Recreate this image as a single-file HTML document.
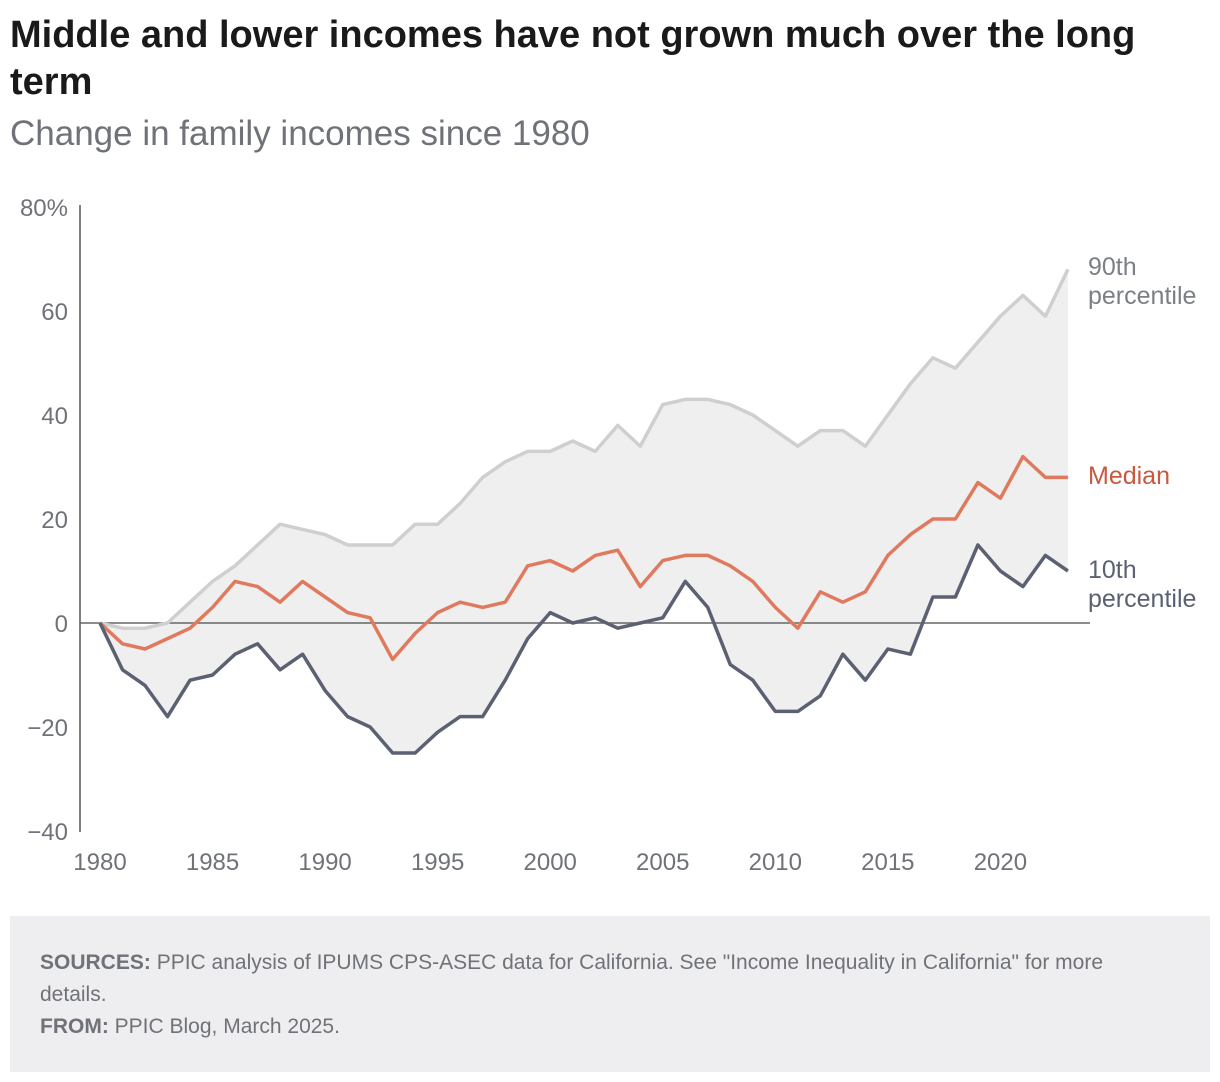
<!DOCTYPE html>
<html><head><meta charset="utf-8"><style>
body{margin:0;background:#fff;width:1220px;height:1082px;overflow:hidden;font-family:"Liberation Sans",sans-serif}
h1{position:absolute;left:10px;top:12px;margin:0;font-size:38px;line-height:47px;font-weight:bold;color:#1a1a1a;width:1160px}
.sub{position:absolute;left:10px;top:114px;font-size:35px;color:#6f7278}
.foot{position:absolute;left:10px;top:916px;width:1200px;height:156px;background:#eeeef0;color:#6f7278;font-size:21px;line-height:32px}
.foot div{padding:31px 30px 0 30px;width:1120px;box-sizing:content-box}
</style></head><body>
<h1>Middle and lower incomes have not grown much over the long term</h1>
<div class="sub">Change in family incomes since 1980</div>
<svg id="chart" width="1220" height="900" style="position:absolute;left:0;top:0"></svg>
<div class="foot"><div><b>SOURCES:</b> PPIC analysis of IPUMS CPS-ASEC data for California. See "Income Inequality in California" for more details.<br><b>FROM:</b> PPIC Blog, March 2025.</div></div>
<script>
const years=[];for(let y=1980;y<=2023;y++)years.push(y);
const p90=[0,-1,-1,0,4,8,11,15,19,18,17,15,15,15,19,19,23,28,31,33,33,35,33,38,34,42,43,43,42,40,37,34,37,37,34,40,46,51,49,54,59,63,59,68];
const median=[0,-4,-5,-3,-1,3,8,7,4,8,5,2,1,-7,-2,2,4,3,4,11,12,10,13,14,7,12,13,13,11,8,3,-1,6,4,6,13,17,20,20,27,24,32,28,28];
const p10=[0,-9,-12,-18,-11,-10,-6,-4,-9,-6,-13,-18,-20,-25,-25,-21,-18,-18,-11,-3,2,0,1,-1,0,1,8,3,-8,-11,-17,-17,-14,-6,-11,-5,-6,5,5,15,10,7,13,10];
const yTicks=[80,60,40,20,0,-20,-40];
const xTicks=[1980,1985,1990,1995,2000,2005,2010,2015,2020];
const X=y=>100+(y-1980)*22.51, Y=v=>623-v*5.2;
const svg=document.getElementById('chart'),NS='http://www.w3.org/2000/svg';
function mk(t,a,txt){const e=document.createElementNS(NS,t);for(const k in a)e.setAttribute(k,a[k]);if(txt!==undefined)e.textContent=txt;svg.appendChild(e);return e;}
const pts=a=>a.map((v,i)=>X(years[i])+','+Y(v)).join(' ');
let area=mk('polygon',{points:pts(p90)+' '+p10.map((v,i)=>X(years[i])+','+Y(v)).reverse().join(' '),fill:'#efefef'});


let ax=mk('line',{x1:80,x2:80,y1:205,y2:832,stroke:'#555','stroke-width':1.5});


let zl=mk('line',{x1:80,x2:1090,y1:Y(0),y2:Y(0),stroke:'#666','stroke-width':1.5});


yTicks.forEach(t=>{let e=mk('text',{x:68,y:Y(t)+9,'text-anchor':'end','font-size':24,fill:'#6f7278'},(t<0?'−'+(-t):t)+(t===80?'%':''));

});
xTicks.forEach(t=>{let e=mk('text',{x:X(t),y:870,'text-anchor':'middle','font-size':24,fill:'#6f7278'},t);

});
[[p90,'#cfcfcf','line-90th'],[median,'#e07a5f','line-median'],[p10,'#5b6172','line-10th']].forEach(([d,c,n])=>{
let l=mk('polyline',{points:pts(d),fill:'none',stroke:c,'stroke-width':3.5,'stroke-linejoin':'round'});

});
[[['90th','percentile'],266,'#7c7f85','label-90th'],[['Median'],475,'#c8583e','label-median'],[['10th','percentile'],569,'#5b6172','label-10th']].forEach(([ls,y,c,n])=>{
ls.forEach((s,i)=>{let e=mk('text',{x:1088,y:y+i*29+9,'font-size':25,fill:c},s);

});});
</script>
</body></html>
